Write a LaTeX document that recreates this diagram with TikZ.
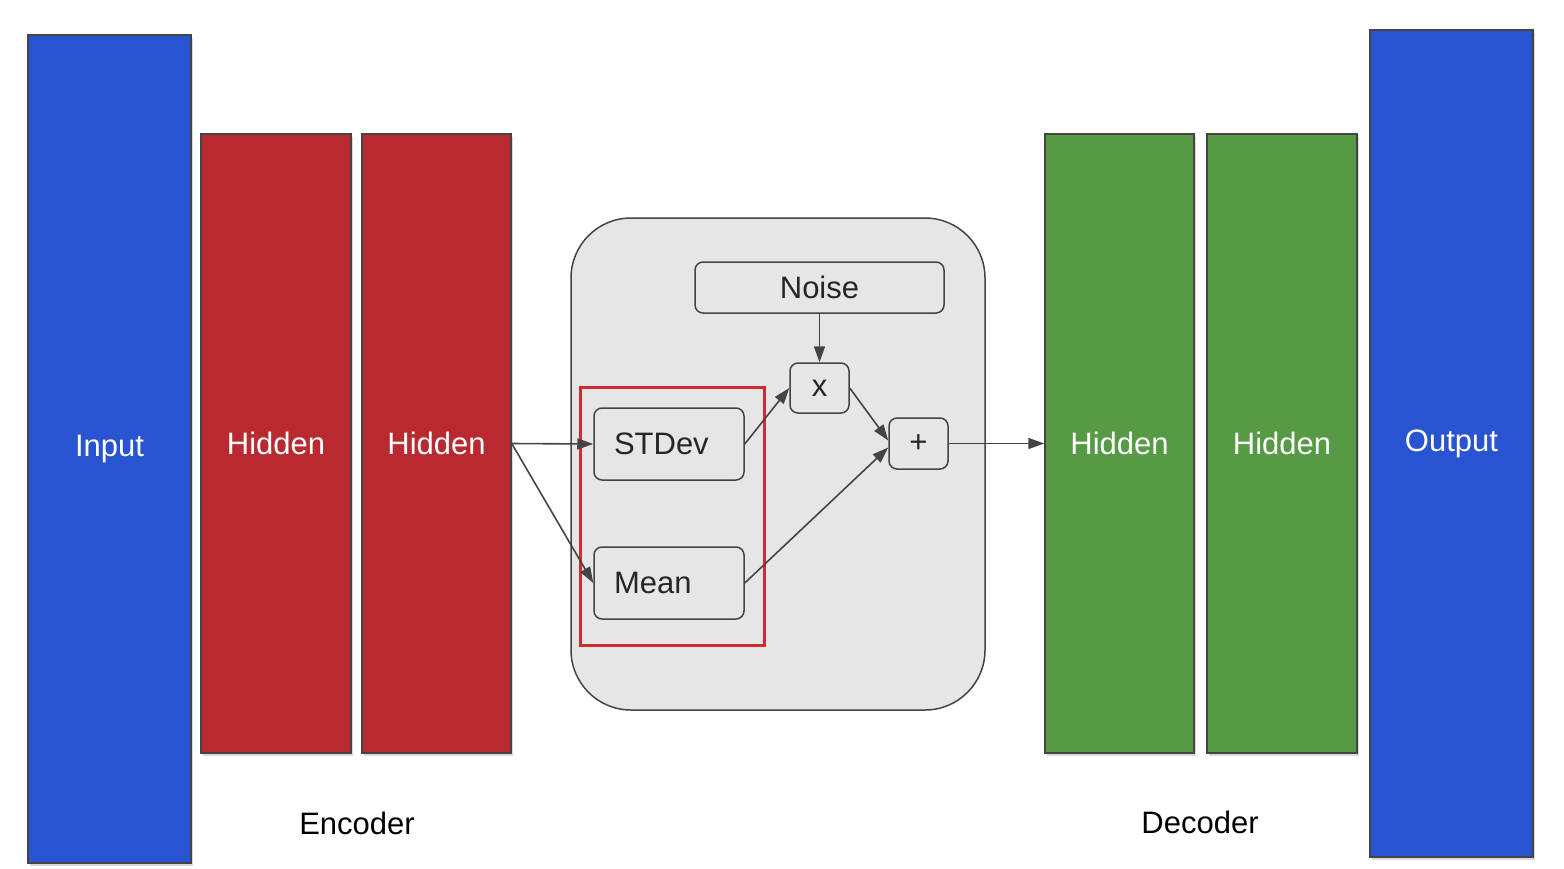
\documentclass[tikz,border=0pt]{standalone}
\usepackage{fontspec}
\setmainfont{Liberation Sans}
\usetikzlibrary{shadows, positioning, arrows.meta}
\definecolor{layerblue}{HTML}{2853D1}
\definecolor{layerred}{HTML}{B82A2F}
\definecolor{layergreen}{HTML}{579A45}
\definecolor{panelgray}{HTML}{E6E6E6}
\definecolor{edgegray}{HTML}{444444}
\definecolor{framered}{HTML}{D42A2F}
\tikzstyle{layer}=[draw=edgegray, line width=1.5pt, inner sep=0pt, text=white,
  drop shadow={shadow xshift=1.5pt, shadow yshift=-2.5pt, opacity=0.3}]
\tikzstyle{unit}=[draw=edgegray, line width=1.5pt, fill=panelgray, rounded corners=8pt,
  inner sep=0pt, text=black!85]
\tikzstyle{arrow}=[-{Triangle[length=16pt,width=11pt]}, draw=edgegray, line width=1.6pt]

\begin{document}
\begin{tikzpicture}[x=1pt, y=-1pt, font=\fontsize{31}{37}\selectfont]
      \useasboundingbox (0,0) rectangle (1564,868);

      % encoder side
      \node[layer, fill=layerblue, minimum width=163pt, minimum height=828pt] (input) at (109.5,449) {Input};
      \node[layer, fill=layerred, minimum width=150pt, minimum height=619pt] (hiddenA) at (276,443.5) {Hidden};
      \node[layer, fill=layerred, minimum width=149pt, minimum height=619pt] (hiddenB) at (436.5,443.5) {Hidden};
      \node (encoder) at (357,823) {Encoder};

      % sampling block
      \node[draw=edgegray, line width=1.5pt, fill=panelgray, rounded corners=60pt,
        minimum width=414pt, minimum height=492pt] (sampler) at (778,464) {};
      \node[draw=framered, line width=3pt, minimum width=184pt, minimum height=258pt] (latent) at (672,516) {};
      \node[unit, minimum width=249pt, minimum height=51pt] (noise) at (819.5,287.5) {Noise};
      \node[unit, minimum width=59pt, minimum height=50pt] (times) at (819.5,388) {x};
      \node[unit, minimum width=59pt, minimum height=51pt] (plus) at (918.5,443.5) {+};
      \node[unit, minimum width=150pt, minimum height=72pt, text width=110pt, align=left] (stdev) at (669,444) {STDev};
      \node[unit, minimum width=150pt, minimum height=72pt, text width=110pt, align=left] (mean) at (669,583) {Mean};

      % decoder side
      \node[layer, fill=layergreen, minimum width=149pt, minimum height=619pt] (hiddenC) at (1119.5,443.5) {Hidden};
      \node[layer, fill=layergreen, minimum width=150pt, minimum height=619pt] (hiddenD) at (1282,443.5) {Hidden};
      \node[layer, fill=layerblue, minimum width=163pt, minimum height=827pt] (output) at (1451.5,443.5) {Output};
      \node (decoder) at (1200,822) {Decoder};

      \draw[arrow] (hiddenB.east) -- (stdev.west);
      \draw[arrow] (hiddenB.east) -- (mean.west);
      \draw[arrow] (stdev.east) -- (times.west);
      \draw[arrow] (noise) -- (times);
      \draw[arrow] (times.east) -- ([yshift=3pt]plus.west);
      \draw[arrow] (mean.east) -- ([yshift=-4pt]plus.west);
      \draw[arrow] (plus.east) -- (hiddenC.west);
    \end{tikzpicture}
\end{document}
